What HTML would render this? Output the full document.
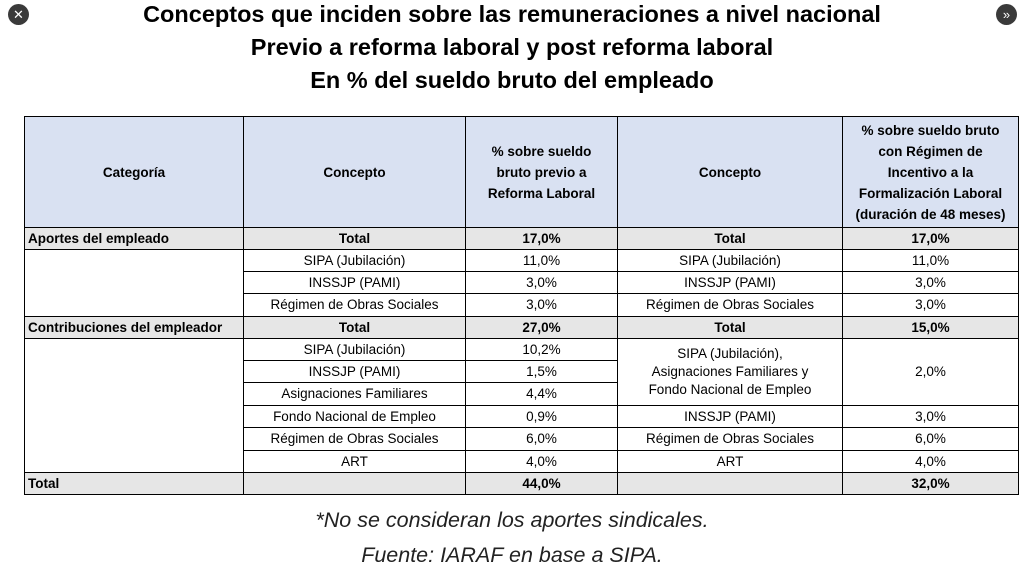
<!DOCTYPE html>
<html><head><meta charset="utf-8"><style>
body{margin:0;width:1024px;height:579px;background:#fff;position:relative;overflow:hidden;font-family:"Liberation Sans",Arial,sans-serif;color:#000}
.t{position:absolute;left:0;width:1024px;text-align:center;font-weight:bold;font-size:23.5px}
.f{position:absolute;left:0;width:1024px;text-align:center;font-style:italic;font-size:21.5px;color:#222}
.c{position:absolute;box-sizing:border-box;border-right:1px solid #000;border-bottom:1px solid #000;display:flex;align-items:center;justify-content:center;text-align:center;font-size:13.5px;line-height:18px;background:#fff}
.h{background:#d9e1f2;font-weight:bold;font-size:13.5px;line-height:21px}
.g{background:#e6e6e6;font-weight:bold}
.l{justify-content:flex-start;padding-left:3px}
.ic{position:absolute;top:4px;width:21px;height:21px;border-radius:50%;background:#3a3a3a;color:#fff;font-size:13px;line-height:21px;text-align:center}
</style></head><body>
<div class="ic" style="left:8px">✕</div>
<div class="ic" style="left:996px">»</div>
<div class="t" style="top:1px">Conceptos que inciden sobre las remuneraciones a nivel nacional</div>
<div class="t" style="top:34px">Previo a reforma laboral y post reforma laboral</div>
<div class="t" style="top:67px">En % del sueldo bruto del empleado</div>
<div style="position:absolute;left:24px;top:116px;width:995px;height:379px;border-left:1px solid #000;border-top:1px solid #000;box-sizing:border-box"></div>
<div id="tb"></div>
<script>
var X=[24,244,466,618,843,1019];
var Y=[116,228,250,272,294,317,339,361,383,406,428,451,473,495];
var out='';
function cell(c0,c1,r0,r1,txt,cls){out+='<div class="c '+(cls||'')+'" style="left:'+(X[c0]+(c0==0?1:0))+'px;top:'+(Y[r0]+(r0==0?1:0))+'px;width:'+(X[c1]-X[c0]-(c0==0?1:0))+'px;height:'+(Y[r1]-Y[r0]-(r0==0?1:0))+'px">'+txt+'</div>';}
cell(0,1,0,1,'Categoría','h');cell(1,2,0,1,'Concepto','h');
cell(2,3,0,1,'% sobre sueldo<br>bruto previo a<br>Reforma Laboral','h');
cell(3,4,0,1,'Concepto','h');
cell(4,5,0,1,'% sobre sueldo bruto<br>con Régimen de<br>Incentivo a la<br>Formalización Laboral<br>(duración de 48 meses)','h');
cell(0,1,1,2,'Aportes del empleado','g l');cell(1,2,1,2,'Total','g');cell(2,3,1,2,'17,0%','g');cell(3,4,1,2,'Total','g');cell(4,5,1,2,'17,0%','g');
cell(0,1,2,5,'');
var a=[['SIPA (Jubilación)','11,0%'],['INSSJP (PAMI)','3,0%'],['Régimen de Obras Sociales','3,0%']];
a.forEach(function(v,i){cell(1,2,2+i,3+i,v[0]);cell(2,3,2+i,3+i,v[1]);cell(3,4,2+i,3+i,v[0]);cell(4,5,2+i,3+i,v[1]);});
cell(0,1,5,6,'Contribuciones del empleador','g l');cell(1,2,5,6,'Total','g');cell(2,3,5,6,'27,0%','g');cell(3,4,5,6,'Total','g');cell(4,5,5,6,'15,0%','g');
cell(0,1,6,12,'');
var b=[['SIPA (Jubilación)','10,2%'],['INSSJP (PAMI)','1,5%'],['Asignaciones Familiares','4,4%'],['Fondo Nacional de Empleo','0,9%'],['Régimen de Obras Sociales','6,0%'],['ART','4,0%']];
b.forEach(function(v,i){cell(1,2,6+i,7+i,v[0]);cell(2,3,6+i,7+i,v[1]);});
cell(3,4,6,9,'SIPA (Jubilación),<br>Asignaciones Familiares y<br>Fondo Nacional de Empleo');cell(4,5,6,9,'2,0%');
cell(3,4,9,10,'INSSJP (PAMI)');cell(4,5,9,10,'3,0%');
cell(3,4,10,11,'Régimen de Obras Sociales');cell(4,5,10,11,'6,0%');
cell(3,4,11,12,'ART');cell(4,5,11,12,'4,0%');
cell(0,1,12,13,'Total','g l');cell(1,2,12,13,'','g');cell(2,3,12,13,'44,0%','g');cell(3,4,12,13,'','g');cell(4,5,12,13,'32,0%','g');
document.getElementById('tb').innerHTML=out;
</script>
<div class="f" style="top:508px">*No se consideran los aportes sindicales.</div>
<div class="f" style="top:543px">Fuente: IARAF en base a SIPA.</div>
</body></html>
